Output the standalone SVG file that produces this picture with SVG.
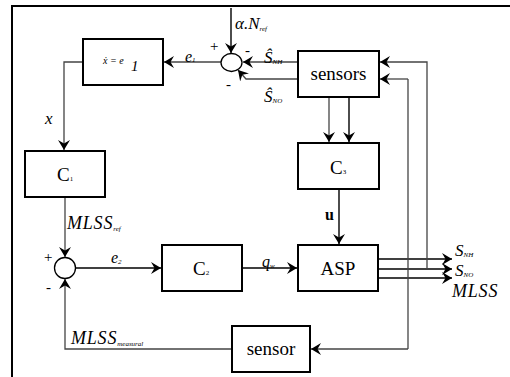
<svg xmlns="http://www.w3.org/2000/svg" width="510" height="377" viewBox="0 0 510 377">
<defs>
<marker id="ah" markerUnits="userSpaceOnUse" markerWidth="11" markerHeight="12" refX="10" refY="6" orient="auto" viewBox="0 0 11 12">
<path d="M0,0 L10,6 L0,12 L3.5,6 z" fill="#000"/>
</marker>
<style>
.box{fill:#fff;stroke:#000;stroke-width:2}
.ln{fill:none;stroke:#444;stroke-width:1.3}
.ar{fill:none;stroke:#444;stroke-width:1.3;marker-end:url(#ah)}
.ak{fill:none;stroke:#000;stroke-width:1.4;marker-end:url(#ah)}
text{font-family:"Liberation Serif","Times New Roman",serif;fill:#000}
.i{font-style:italic}
.sub{font-size:7px;font-style:italic}
.lbl{font-size:19px;text-anchor:middle}
</style>
</defs>
<rect width="510" height="377" fill="#fff"/>
<path d="M12,377 L12,6 L510,6" fill="none" stroke="#000" stroke-width="2"/>

<g id="connectors">
<path class="ak" d="M231,8 L231,53"/>
<path class="ar" d="M221,62 L164,62"/>
<path class="ar" d="M83,62 L64,62 L64,150"/>
<path class="ar" d="M298,62 L243,62"/>
<path class="ar" d="M298,79 L246,79 L238,70"/>
<path class="ar" d="M329,97 L329,142"/>
<path class="ak" d="M349,97 L349,142"/>
<path class="ak" d="M339,189 L339,244"/>
<path class="ar" d="M65,197 L65,257"/>
<path class="ak" d="M75,268 L161,268"/>
<path class="ak" d="M242,268 L297,268"/>
<path class="ak" d="M378,259 L452,259"/>
<path class="ak" d="M378,269 L452,269"/>
<path class="ak" d="M378,278 L452,278"/>
<path class="ar" d="M427,269 L427,62 L380,62"/>
<path class="ar" d="M408,79 L380,79"/>
<path class="ln" d="M408,79 L408,349"/>
<path class="ar" d="M408,349 L311,349"/>
<path class="ar" d="M232,349 L65,349 L65,279"/>
</g>

<g id="sum1">
<ellipse cx="231.5" cy="62.5" rx="10.5" ry="9" fill="#fff" stroke="#000" stroke-width="1.3"/>
<text x="210" y="51" font-size="15">+</text>
<text x="245" y="55" font-size="15">-</text>
<text x="226" y="89" font-size="15">-</text>
</g>

<g id="sum2">
<circle cx="65" cy="268" r="10.5" fill="#fff" stroke="#000" stroke-width="1.3"/>
<text x="44" y="262" font-size="15">+</text>
<text x="46" y="292" font-size="15">-</text>
</g>

<g id="integrator">
<rect class="box" x="83" y="39" width="80" height="46"/>
<text class="i" x="103" y="64" font-size="10">ẋ = e</text>
<text class="i" x="131" y="71" font-size="15">1</text>
</g>

<g id="C1">
<rect class="box" x="25" y="151" width="80" height="46"/>
<text x="57" y="181" font-size="19">C<tspan font-size="7">1</tspan></text>
</g>

<g id="sensors">
<rect class="box" x="298" y="51" width="81" height="46"/>
<text class="lbl" x="338.5" y="80">sensors</text>
</g>

<g id="C3">
<rect class="box" x="298" y="143" width="81" height="46"/>
<text x="330" y="174" font-size="19">C<tspan font-size="7">3</tspan></text>
</g>

<g id="C2">
<rect class="box" x="162" y="245" width="80" height="46"/>
<text x="193" y="275" font-size="19">C<tspan font-size="7">2</tspan></text>
</g>

<g id="ASP">
<rect class="box" x="298" y="245" width="80" height="46"/>
<text class="lbl" x="338" y="275">ASP</text>
</g>

<g id="sensor">
<rect class="box" x="232" y="326" width="78" height="46"/>
<text class="lbl" x="271" y="355">sensor</text>
</g>

<g id="labels">
<text class="i" x="45" y="124" font-size="17">x</text>
<text class="i" x="185" y="62" font-size="16">e<tspan class="sub">1</tspan></text>
<text class="i" x="235" y="29" font-size="17">α.N<tspan class="sub" dy="2">ref</tspan></text>
<text class="i" x="264" y="63" font-size="17">Ŝ<tspan class="sub" dy="1">NH</tspan></text>
<text class="i" x="264" y="102" font-size="17">Ŝ<tspan class="sub" dy="1">NO</tspan></text>
<text x="325" y="220" font-size="16" font-weight="bold">u</text>
<text class="i" x="67" y="229" font-size="18" letter-spacing="0.8">MLSS<tspan class="sub" dy="2" letter-spacing="0">ref</tspan></text>
<text class="i" x="111" y="263" font-size="16">e<tspan class="sub" dy="1">2</tspan></text>
<text class="i" x="262" y="267" font-size="16">q<tspan class="sub" dy="1">w</tspan></text>
<text class="i" x="71" y="344" font-size="18" letter-spacing="0.8">MLSS<tspan class="sub" dy="2" letter-spacing="0">measural</tspan></text>
<text class="i" x="455" y="256" font-size="17">S<tspan class="sub" dy="1">NH</tspan></text>
<text class="i" x="455" y="276" font-size="17">S<tspan class="sub" dy="1">NO</tspan></text>
<text class="i" x="452" y="297" font-size="18" letter-spacing="0.8">MLSS</text>
</g>
</svg>
